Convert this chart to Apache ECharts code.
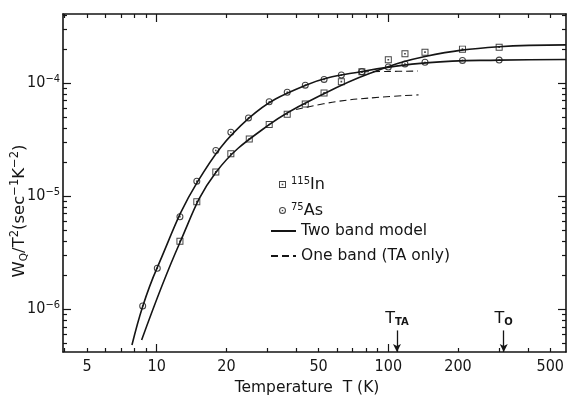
<!DOCTYPE html>
<html><head><meta charset="utf-8">
<script src="https://cdn.jsdelivr.net/npm/echarts@6/dist/echarts.min.js"></script>
<style>html,body{margin:0;padding:0;background:#fff}#c{width:567px;height:396px}</style>
</head><body><div id="c"></div>
<script>
// ---- data ----
const T_AS = [8.7, 10.06, 12.6, 14.9, 18.0, 20.9, 24.9, 30.6, 36.6, 43.8, 52.8, 62.7, 76.9, 100, 118, 144, 209, 301];
const W_AS = [1.07e-6, 2.31e-6, 6.59e-6, 1.36e-5, 2.54e-5, 3.68e-5, 4.93e-5, 6.84e-5, 8.32e-5, 9.6e-5, 1.08e-4, 1.18e-4, 1.26e-4, 1.39e-4, 1.48e-4, 1.53e-4, 1.59e-4, 1.60e-4];
const T_IN = [12.6, 14.9, 18.0, 20.9, 25.1, 30.6, 36.6, 43.8, 52.8, 62.7, 76.9, 100, 118, 144, 209, 301];
const W_IN = [4.0e-6, 8.95e-6, 1.64e-5, 2.37e-5, 3.21e-5, 4.31e-5, 5.3e-5, 6.53e-5, 8.2e-5, 1.03e-4, 1.26e-4, 1.61e-4, 1.82e-4, 1.88e-4, 2.0e-4, 2.08e-4];

const T_AS_TWO = [7.82, 8.7, 10, 15, 25, 44, 77, 150, 300, 585];
const W_AS_TWO = [4.83e-7, 1.06e-6, 2.28e-6, 1.34e-5, 4.9e-5, 9.6e-5, 1.27e-4, 1.52e-4, 1.60e-4, 1.62e-4];
const T_IN_TWO = [8.61, 12.6, 18, 30.6, 53, 84, 144, 300, 585];
const W_IN_TWO = [5.35e-7, 3.9e-6, 1.62e-5, 4.3e-5, 8.1e-5, 1.23e-4, 1.72e-4, 2.1e-4, 2.18e-4];

const T_AS_ONE = [77, 100, 134];
const W_AS_ONE = [1.26e-4, 1.27e-4, 1.28e-4];
const T_IN_ONE = [40, 60, 92, 135];
const W_IN_ONE = [5.85e-5, 6.88e-5, 7.51e-5, 7.88e-5];

const MARK_T = [109, 315];
const MARK_NAMES = ['TA', 'O'];
const MARK_TOP_W = 6.5e-7;

const X_LABELS = [5, 10, 20, 50, 100, 200, 500];
const X_MAJOR = [10, 100];
const X_MINOR = [4, 6, 7, 8, 9, 5, 20, 30, 40, 50, 60, 70, 80, 90, 200, 300, 400, 500];
const Y_LABELS = [1e-6, 1e-5, 1e-4];
const Y_MINOR = [5e-7, 6e-7, 7e-7, 8e-7, 9e-7, 2e-6, 3e-6, 4e-6, 5e-6, 6e-6, 7e-6, 8e-6, 9e-6,
                 2e-5, 3e-5, 4e-5, 5e-5, 6e-5, 7e-5, 8e-5, 9e-5, 2e-4, 3e-4, 4e-4];
const X_RANGE = [3.94, 585];
const Y_RANGE = [4.19e-7, 4.09e-4];

// ---- build ----
const L = Math.log10;
const pairs = (xs, ys) => xs.map((x, i) => [L(x), L(ys[i])]);
const INK = '#151515';
const TICKFONT = "'Liberation Sans Narrow','DejaVu Sans Condensed','Liberation Sans',sans-serif";
const FONT = "'DejaVu Sans',sans-serif";

const GRID = {left: 63, right: 1, top: 14, bottom: 44, containLabel: false, outerBoundsMode: 'none'};
const grids = [0, 1, 2, 3].map(() => Object.assign({}, GRID));

function xAx(gi, pos, ticks, len, labels, line) {
  return {
    type: 'value', gridIndex: gi, position: pos, min: L(X_RANGE[0]), max: L(X_RANGE[1]),
    splitLine: {show: false},
    axisLine: {show: line, onZero: false, lineStyle: {color: INK, width: 1.6}},
    axisTick: {show: true, inside: true, length: len, customValues: ticks.map(L), lineStyle: {color: INK, width: 1.2}},
    axisLabel: labels ? {show: true, customValues: labels.map(L), formatter: v => String(Math.round(Math.pow(10, v))),
      margin: 7, fontFamily: TICKFONT, fontSize: 16, color: INK} : {show: false}
  };
}
function yAx(gi, pos, ticks, len, labels, line) {
  return {
    type: 'value', gridIndex: gi, position: pos, min: L(Y_RANGE[0]), max: L(Y_RANGE[1]),
    splitLine: {show: false},
    axisLine: {show: line, onZero: false, lineStyle: {color: INK, width: 1.6}},
    axisTick: {show: true, inside: true, length: len, customValues: ticks.map(L), lineStyle: {color: INK, width: 1.2}},
    axisLabel: labels ? {show: true, customValues: labels.map(L),
      formatter: v => '{b|10}{s|\u2212' + Math.round(-v) + '}', margin: 3, color: INK,
      rich: {b: {fontFamily: TICKFONT, fontSize: 16, lineHeight: 16, color: INK},
             s: {fontFamily: TICKFONT, fontSize: 11, lineHeight: 11, padding: [0, 0, 9, 0], color: INK}}} : {show: false}
  };
}

const ringPath = 'path://M0,-5A5,5,0,1,1,0,5A5,5,0,1,1,0,-5ZM0,-3.5A3.5,3.5,0,1,0,0,3.5A3.5,3.5,0,1,0,0,-3.5ZM0,-1.2A1.2,1.2,0,1,1,0,1.2A1.2,1.2,0,1,1,0,-1.2Z';
const boxPath = 'path://M-5,-5L5,-5L5,5L-5,5ZM-3.6,-3.6L-3.6,3.6L3.6,3.6L3.6,-3.6ZM-1.2,-1.2L1.2,-1.2L1.2,1.2L-1.2,1.2Z';

const lineBase = {type: 'line', xAxisIndex: 0, yAxisIndex: 0, symbol: 'none', smooth: 0.4, silent: true};

const markData = MARK_T.map((t, i) => [
  {coord: [L(t), L(MARK_TOP_W)], label: {formatter: '{t|T}{s|' + MARK_NAMES[i] + '}'}},
  {coord: [L(t), L(Y_RANGE[0])]}
]);

const option = {
  animation: false,
  backgroundColor: '#fff',
  grid: grids,
  xAxis: [
    Object.assign(xAx(0, 'bottom', X_MAJOR, 8, X_LABELS, true), {
      name: 'Temperature  T (K)', nameLocation: 'middle', nameGap: 28, nameMoveOverlap: false,
      nameTextStyle: {fontFamily: FONT, fontSize: 15.5, color: INK, padding: [0, 15, 0, 0]}}),
    xAx(1, 'bottom', X_MINOR, 4, null, false),
    xAx(2, 'top', X_MAJOR, 8, null, true),
    xAx(3, 'top', X_MINOR, 4, null, false)
  ],
  yAxis: [
    Object.assign(yAx(0, 'left', Y_LABELS, 8, Y_LABELS, true), {
      name: '{n|W}{sub|Q}{n|/T}{sup|2}{n|(sec}{sup|\u22121}{n|K}{sup|\u22122}{n|)}',
      nameLocation: 'middle', nameGap: 32, nameMoveOverlap: false,
      nameTextStyle: {color: INK, padding: [0, 56, 0, 0], rich: {
        n: {fontFamily: FONT, fontSize: 16.5, lineHeight: 22, color: INK},
        sub: {fontFamily: FONT, fontSize: 10.5, lineHeight: 22, padding: [8, 0, 0, 0], color: INK},
        sup: {fontFamily: FONT, fontSize: 11.5, lineHeight: 22, padding: [0, 0, 10, 0], color: INK}}}
    }),
    yAx(1, 'left', Y_MINOR, 4, null, false),
    yAx(2, 'right', Y_LABELS, 8, null, true),
    yAx(3, 'right', Y_MINOR, 4, null, false)
  ],
  legend: [
    {orient: 'vertical', left: 274, top: 171, itemWidth: 7, itemHeight: 7, itemGap: 9, selectedMode: false,
     data: [{name: 'In', icon: boxPath}, {name: 'As', icon: ringPath}],
     formatter: n => n === 'In' ? '{s|115}{n|In}' : '{s|75}{n|As}',
     textStyle: {color: INK, rich: {
       n: {fontFamily: FONT, fontSize: 16, lineHeight: 14, color: INK},
       s: {fontFamily: FONT, fontSize: 10, lineHeight: 10, padding: [0, 0, 7, 0], color: INK}}}},
    {orient: 'vertical', left: 265, top: 218, itemWidth: 25, itemHeight: 14, itemGap: 9, selectedMode: false,
     itemStyle: {opacity: 0},
     data: ['Two band model', 'One band (TA only)'],
     textStyle: {color: INK, fontFamily: FONT, fontSize: 15.5}}
  ],
  series: [
    {name: 'In', type: 'scatter', xAxisIndex: 0, yAxisIndex: 0, symbol: boxPath, symbolSize: 7,
     itemStyle: {color: INK}, data: pairs(T_IN, W_IN), z: 5, silent: true},
    {name: 'As', type: 'scatter', xAxisIndex: 0, yAxisIndex: 0, symbol: ringPath, symbolSize: 7,
     itemStyle: {color: INK}, data: pairs(T_AS, W_AS), z: 5, silent: true},
    Object.assign({}, lineBase, {name: 'Two band model', data: pairs(T_AS_TWO, W_AS_TWO),
      lineStyle: {color: INK, width: 1.6}, itemStyle: {color: INK},
      markLine: {silent: true, symbol: ['none', 'arrow'], symbolSize: [6, 8], precision: 6,
        lineStyle: {color: INK, width: 1.3, type: 'solid'},
        label: {show: true, position: 'start', distance: 3, color: INK,
          rich: {t: {fontFamily: FONT, fontSize: 16, color: INK},
                 s: {fontFamily: FONT, fontSize: 10, fontWeight: 'bold', padding: [8, 0, 0, 0], color: INK}}},
        data: markData}}),
    Object.assign({}, lineBase, {name: 'Two band model', data: pairs(T_IN_TWO, W_IN_TWO),
      lineStyle: {color: INK, width: 1.6}, itemStyle: {color: INK}}),
    Object.assign({}, lineBase, {name: 'One band (TA only)', data: pairs(T_AS_ONE, W_AS_ONE),
      lineStyle: {color: INK, width: 1.1, type: [7, 4]}, itemStyle: {color: INK}}),
    Object.assign({}, lineBase, {name: 'One band (TA only)', data: pairs(T_IN_ONE, W_IN_ONE),
      lineStyle: {color: INK, width: 1.1, type: [7, 4]}, itemStyle: {color: INK}})
  ]
};

const chart = echarts.init(document.getElementById('c'), null, {renderer: 'canvas'});
chart.setOption(option);
</script></body></html>
